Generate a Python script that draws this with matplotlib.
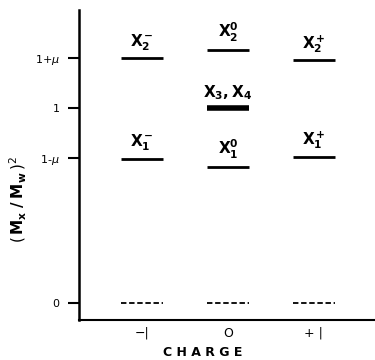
import matplotlib.pyplot as plt

mu = 0.255

# charge positions of each level
charges = [-1, 0, 1, -1, 0, 1, 0]
levels = [1 + mu, 1.3, 1 + mu - 0.01, 0.74, 0.70, 0.75, 1.0]
labels = [r'$\mathbf{X_2^-}$', r'$\mathbf{X_2^0}$', r'$\mathbf{X_2^+}$',
          r'$\mathbf{X_1^-}$', r'$\mathbf{X_1^0}$', r'$\mathbf{X_1^+}$',
          r'$\mathbf{X_3,X_4}$']
widths = [2, 2, 2, 2, 2, 2, 4]

# zero levels (dashed)
zero_charges = [-1, 0, 1]
zero_levels = [0, 0, 0]

yticks = [0, 1 - mu, 1, 1 + mu]
yticklabels = ['0', r'1-$\mu$', '1', r'1+$\mu$']
xticks = [-1, 0, 1]
xticklabels = ['\u2212|', 'O', '+ |']

fig = plt.figure(figsize=(3.75, 3.6), dpi=100)
ax = fig.add_axes([0.211, 0.111, 0.789, 0.861])

half = 0.245
for c, lv, lab, w in zip(charges, levels, labels, widths):
    ax.plot([c - half, c + half], [lv, lv], color='black', lw=w, solid_capstyle='butt')
    ax.text(c, lv + 0.03, lab, ha='center', va='bottom', fontsize=11)

for c, lv in zip(zero_charges, zero_levels):
    ax.plot([c - half, c + half], [lv, lv], color='black', lw=1.3, ls=(0, (3, 1.5)))

ax.set_xlim(-1.73, 1.71)
ax.set_ylim(-0.087, 1.503)
ax.spines['top'].set_visible(False)
ax.spines['right'].set_visible(False)
ax.spines['left'].set_linewidth(1.8)
ax.spines['bottom'].set_linewidth(1.5)

ax.set_yticks(yticks)
ax.set_yticklabels(yticklabels, fontsize=8)
ax.tick_params(axis='y', direction='out', length=8, width=1.5, pad=6)
ax.set_xticks(xticks)
ax.set_xticklabels(xticklabels, fontsize=9)
ax.tick_params(axis='x', length=0, pad=5)

fig.text(0.54, 0.022, 'C H A R G E', ha='center', va='center', fontsize=9, fontweight='bold')
fig.text(0.048, 0.445, r'$(\,\mathbf{M_x\;/\;M_w}\,)^2$', ha='center', va='center',
         rotation=90, fontsize=11)

fig.savefig('out.png', dpi=100)
